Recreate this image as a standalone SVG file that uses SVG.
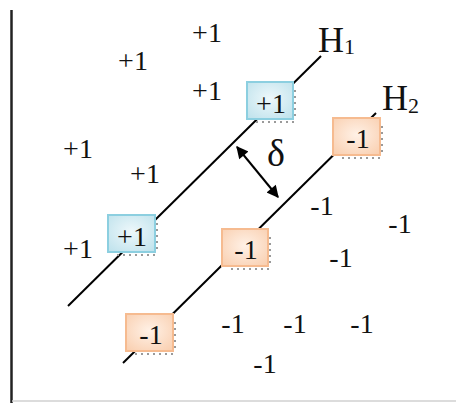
<svg xmlns="http://www.w3.org/2000/svg" width="456" height="403" viewBox="0 0 456 403">
<defs>
<radialGradient id="gb" cx="50%" cy="45%" r="70%">
<stop offset="0" stop-color="#eef8fb"/><stop offset="1" stop-color="#bfe2ec"/>
</radialGradient>
<radialGradient id="go" cx="50%" cy="45%" r="70%">
<stop offset="0" stop-color="#fff1e6"/><stop offset="1" stop-color="#f9cfb0"/>
</radialGradient>
<marker id="ah" viewBox="0 0 10 10" refX="9" refY="5" markerWidth="15" markerHeight="12" markerUnits="userSpaceOnUse" orient="auto-start-reverse">
<path d="M0,0 L10,5 L0,10 z" fill="#000"/>
</marker>
<style>
.bb{fill:url(#gb);stroke:#8ccfe0;stroke-width:2;}
.bo{fill:url(#go);stroke:#f6bb90;stroke-width:2;}
.dots{stroke:#9a9a9a;stroke-width:2;stroke-dasharray:2 4;fill:none;}
.ln{stroke:#000;stroke-width:2;fill:none;}
</style>
</defs>
<g id="axes">
<line x1="11.5" y1="10" x2="11.5" y2="403" stroke="#222" stroke-width="2.5"/>
<line x1="12" y1="401" x2="456" y2="401" stroke="#d0d0d0" stroke-width="1.5"/>
</g>
<g id="connectors">
<line class="ln" x1="68" y1="306" x2="321" y2="56"/>
<line class="ln" x1="123" y1="363" x2="376" y2="113"/>
<line class="ln" x1="237" y1="147" x2="278" y2="197" marker-start="url(#ah)" marker-end="url(#ah)"/>
</g>
<g font-family="'Liberation Serif', 'Times New Roman', serif" font-size="28" fill="#111" text-anchor="middle">
<g id="box-p1">
<rect class="bb" x="247" y="82" width="46" height="37"/>
<path class="dots" d="M256,122 H294 M295,90 V118"/>
<text x="271" y="113">+1</text>
</g>
<g id="box-p2">
<rect class="bb" x="108" y="215" width="47" height="37"/>
<path class="dots" d="M117,255 H156 M157,223 V251"/>
<text x="132" y="246">+1</text>
</g>
<g id="box-n1">
<rect class="bo" x="333" y="118" width="47" height="37"/>
<path class="dots" d="M342,158 H381 M382,126 V154"/>
<text x="358" y="148">-1</text>
</g>
<g id="box-n2">
<rect class="bo" x="222" y="229" width="46" height="37"/>
<path class="dots" d="M231,269 H269 M270,237 V265"/>
<text x="246" y="259">-1</text>
</g>
<g id="box-n3">
<rect class="bo" x="126" y="314" width="47" height="37"/>
<path class="dots" d="M135,354 H174 M175,322 V350"/>
<text x="151" y="344">-1</text>
</g>
<g id="labels">
<text x="207" y="42">+1</text>
<text x="133" y="70">+1</text>
<text x="207" y="100">+1</text>
<text x="78" y="158">+1</text>
<text x="145" y="183">+1</text>
<text x="78" y="258">+1</text>
<text x="322" y="215">-1</text>
<text x="400" y="233">-1</text>
<text x="341" y="267">-1</text>
<text x="233" y="333">-1</text>
<text x="295" y="333">-1</text>
<text x="362" y="333">-1</text>
<text x="265" y="373">-1</text>
<text x="318" y="52" font-size="36" text-anchor="start">H<tspan dy="2" font-size="22">1</tspan></text>
<text x="382" y="110" font-size="36" text-anchor="start">H<tspan dy="3" font-size="22">2</tspan></text>
<text x="276" y="166" font-size="38">δ</text>
</g>
</g>
</svg>
